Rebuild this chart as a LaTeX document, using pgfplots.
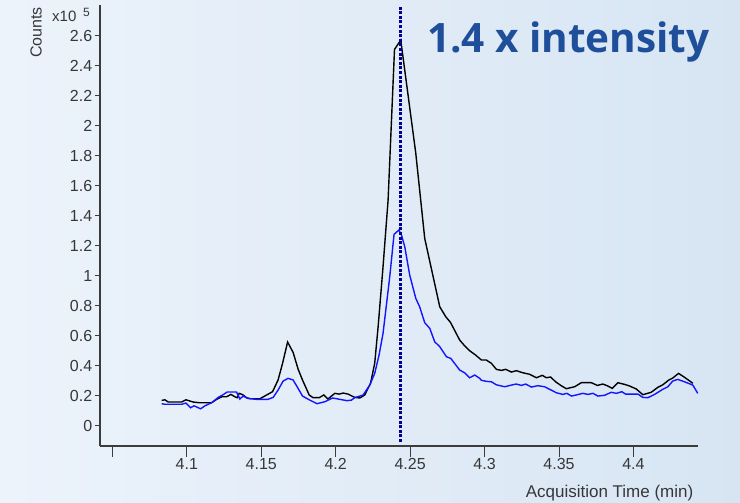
\documentclass[border=0pt]{standalone}
\usepackage{pgfplots}
\pgfplotsset{compat=1.18}
\usepackage{pgfplotstable}
\usepackage{fontspec}
\setmainfont{Liberation Sans}
\newfontfamily\titlefont{Open Sans}

\definecolor{bgL}{RGB}{236,243,251}
\definecolor{bgR}{RGB}{215,229,243}
\definecolor{axisgray}{RGB}{60,60,60}
\definecolor{labelgray}{RGB}{55,55,55}
\definecolor{titleblue}{RGB}{31,78,155}
\definecolor{markerblue}{RGB}{0,0,150}
\definecolor{traceblue}{RGB}{20,20,255}

% EIC traces, time (min) vs counts (x10^5)
\pgfplotstableread{
t y
4.0831 0.169
4.0853 0.173
4.0875 0.158
4.0965 0.158
4.0994 0.173
4.1043 0.158
4.1088 0.153
4.1166 0.153
4.1200 0.176
4.1234 0.193
4.1267 0.193
4.1296 0.209
4.1323 0.193
4.1338 0.187
4.1352 0.216
4.1375 0.207
4.1401 0.187
4.1424 0.180
4.1491 0.180
4.1536 0.205
4.1576 0.227
4.1613 0.305
4.1643 0.416
4.1677 0.558
4.1714 0.489
4.1748 0.376
4.1777 0.305
4.1822 0.205
4.1848 0.187
4.1889 0.187
4.1920 0.205
4.1947 0.178
4.1994 0.216
4.2023 0.211
4.2050 0.218
4.2083 0.211
4.2128 0.189
4.2162 0.185
4.2195 0.205
4.2234 0.283
4.2262 0.416
4.2285 0.660
4.2318 1.060
4.2352 1.505
4.2395 2.509
4.2437 2.571
4.2538 1.816
4.2598 1.249
4.2699 0.793
4.2739 0.727
4.2771 0.689
4.2833 0.571
4.2866 0.533
4.2900 0.500
4.2940 0.471
4.2979 0.438
4.3012 0.438
4.3046 0.416
4.3079 0.376
4.3113 0.369
4.3142 0.376
4.3180 0.358
4.3213 0.367
4.3258 0.353
4.3303 0.343
4.3348 0.320
4.3388 0.336
4.3415 0.320
4.3444 0.325
4.3477 0.293
4.3515 0.267
4.3549 0.247
4.3605 0.260
4.3650 0.287
4.3717 0.287
4.3757 0.269
4.3795 0.278
4.3828 0.265
4.3858 0.249
4.3895 0.287
4.3940 0.276
4.3974 0.265
4.4019 0.245
4.4063 0.207
4.4119 0.223
4.4164 0.256
4.4197 0.273
4.4238 0.305
4.4264 0.318
4.4303 0.349
4.4343 0.323
4.4399 0.283
}\blacktrace

\pgfplotstableread{
t y
4.0831 0.147
4.0853 0.143
4.0965 0.143
4.0994 0.151
4.1026 0.120
4.1048 0.133
4.1093 0.113
4.1122 0.133
4.1166 0.153
4.1211 0.189
4.1244 0.207
4.1271 0.225
4.1334 0.225
4.1356 0.178
4.1378 0.198
4.1408 0.183
4.1468 0.176
4.1545 0.176
4.1580 0.189
4.1613 0.238
4.1647 0.298
4.1680 0.316
4.1714 0.305
4.1741 0.260
4.1777 0.198
4.1826 0.171
4.1875 0.147
4.1927 0.160
4.1979 0.185
4.2028 0.176
4.2076 0.167
4.2106 0.171
4.2128 0.187
4.2184 0.205
4.2229 0.271
4.2262 0.349
4.2291 0.470
4.2318 0.616
4.2363 0.993
4.2392 1.276
4.2425 1.305
4.2442 1.271
4.2464 1.193
4.2497 1.005
4.2538 0.849
4.2564 0.793
4.2598 0.687
4.2632 0.649
4.2665 0.560
4.2699 0.527
4.2744 0.460
4.2773 0.449
4.2833 0.371
4.2866 0.353
4.2900 0.320
4.2934 0.338
4.2967 0.316
4.2979 0.303
4.3012 0.296
4.3046 0.293
4.3079 0.273
4.3135 0.260
4.3180 0.271
4.3213 0.278
4.3247 0.269
4.3276 0.278
4.3314 0.258
4.3358 0.267
4.3403 0.260
4.3437 0.243
4.3482 0.220
4.3526 0.209
4.3553 0.216
4.3583 0.198
4.3616 0.205
4.3660 0.216
4.3694 0.209
4.3728 0.216
4.3761 0.198
4.3806 0.203
4.3851 0.223
4.3885 0.216
4.3922 0.227
4.3947 0.211
4.4030 0.211
4.4063 0.189
4.4097 0.187
4.4142 0.209
4.4197 0.243
4.4231 0.260
4.4264 0.298
4.4298 0.309
4.4343 0.293
4.4399 0.271
4.4432 0.216
}\bluetrace

\begin{document}
\begin{tikzpicture}[x=1pt,y=1pt]
\shade[left color=bgL,right color=bgR] (0,0) rectangle (740,503);
\useasboundingbox (0,0) rectangle (740,503);
\begin{axis}[
  at={(100pt,57pt)}, anchor=south west,
  width=598pt, height=441pt, scale only axis,
  xmin=4.04168, xmax=4.44336, ymin=-0.135, ymax=2.805,
  axis x line*=bottom, axis y line*=left,
  axis line style={axisgray, line width=1.3pt},
  tick align=outside,
  xtick={4.05,4.1,4.15,4.2,4.25,4.3,4.35,4.4},
  xticklabels={,4.1,4.15,4.2,4.25,4.3,4.35,4.4},
  ytick={0,0.2,0.4,0.6,0.8,1,1.2,1.4,1.6,1.8,2,2.2,2.4,2.6},
  yticklabels={0,0.2,0.4,0.6,0.8,1,1.2,1.4,1.6,1.8,2,2.2,2.4,2.6},
  xtick style={axisgray, line width=1pt, /pgfplots/major tick length=11pt},
  ytick style={axisgray, line width=1pt, /pgfplots/major tick length=5pt},
  minor tick num=0,
  tick label style={font=\fontsize{16}{18}\selectfont, text=labelgray},
  xticklabel style={yshift=-5pt},
  /pgf/number format/assume math mode=true,
  clip=false,
]
\addplot[black, line width=1.4pt] table[x=t, y=y] {\blacktrace};
\addplot[traceblue, line width=1.4pt] table[x=t, y=y] {\bluetrace};
\addplot[markerblue, line width=3pt, dash pattern=on 3pt off 1.6pt]
  coordinates {(4.2437,-0.109) (4.2437,2.80)};
\end{axis}
\node[anchor=base east, inner sep=0, text=labelgray, font=\fontsize{17}{19}\selectfont]
  at (693.5,5) {Acquisition Time (min)};
\node[rotate=90, anchor=base, inner sep=0, text=labelgray, font=\fontsize{16}{18}\selectfont]
  at (41.5,470.5) {Counts};
\node[anchor=base west, inner sep=0, text=labelgray, font=\fontsize{15}{17}\selectfont]
  at (52,481) {x10};
\node[anchor=base west, inner sep=0, text=labelgray, font=\fontsize{12}{14}\selectfont]
  at (83,486) {5};
\node[anchor=base west, inner sep=0, text=titleblue, font=\titlefont\bfseries\fontsize{40.5}{46}\selectfont]
  at (427,450) {1.4 x intensity};
\end{tikzpicture}
\end{document}
